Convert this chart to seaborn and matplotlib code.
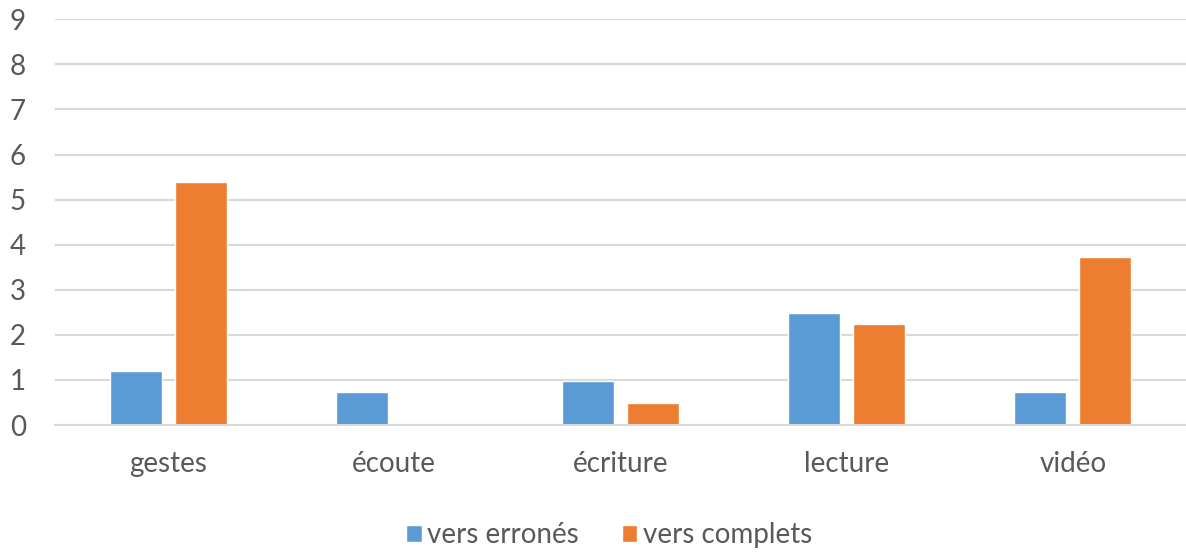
import pandas as pd
import numpy as np
import matplotlib.pyplot as plt
import seaborn as sns

# data
categories = ['gestes', 'écoute', 'écriture', 'lecture', 'vidéo']
vers_errones = [1.2, 0.73, 0.97, 2.49, 0.73]
vers_complets = [5.4, 0.0, 0.49, 2.25, 3.73]
series_names = ['vers erronés', 'vers complets']

df = pd.DataFrame({
    'cat': categories * 2,
    'val': vers_errones + vers_complets,
    'serie': [series_names[0]] * 5 + [series_names[1]] * 5,
})

sns.set_theme(style='white')
plt.rcParams['font.family'] = ['Lato', 'DejaVu Sans']

fig = plt.figure(figsize=(11.86, 5.52), dpi=100)
ax = fig.add_axes([55 / 1186, (552 - 425) / 552, 1131 / 1186, (425 - 19.3) / 552])

sns.barplot(data=df, x='cat', y='val', hue='serie', order=categories,
            palette=['#5b9bd5', '#ed7d31'], width=0.575, gap=0.2,
            saturation=1, errorbar=None, ax=ax)

ax.set_xlim(-0.5, 4.5)
ax.set_ylim(0, 9)
ax.set_yticks(range(0, 10))
ax.yaxis.grid(True, color='#d9d9d9', linewidth=1.5)
ax.set_axisbelow(True)
for s in ['left', 'right', 'top']:
    ax.spines[s].set_visible(False)
ax.spines['bottom'].set_color('#d9d9d9')
ax.spines['bottom'].set_linewidth(1.5)
ax.tick_params(axis='both', length=0, colors='#595959', labelsize=20)
ax.tick_params(axis='x', pad=19)
ax.tick_params(axis='y', pad=21)
ax.set_xlabel('')
ax.set_ylabel('')

ax.legend(loc='center', bbox_to_anchor=(0.49, -0.272), ncol=2, frameon=False,
          fontsize=20, labelcolor='#595959', handlelength=0.55, handleheight=0.55,
          handletextpad=0.2, columnspacing=1.55)

plt.savefig('out.png', dpi=100)
